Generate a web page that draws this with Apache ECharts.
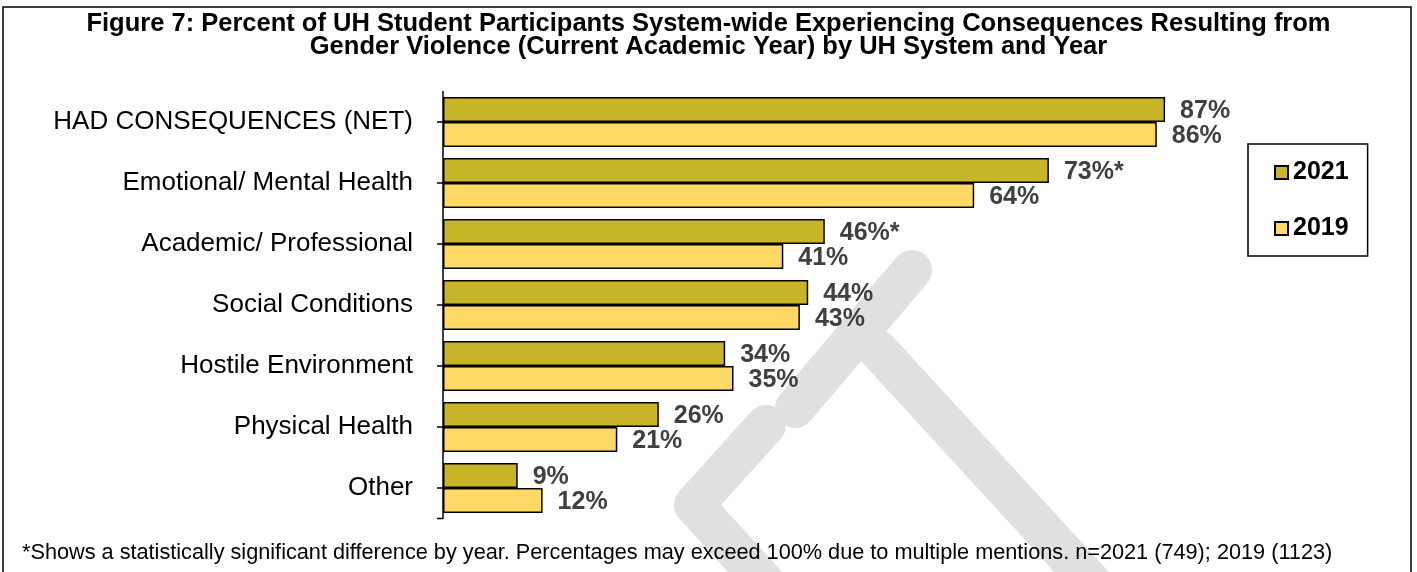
<!DOCTYPE html>
<html>
<head>
<meta charset="utf-8">
<script src="https://cdn.jsdelivr.net/npm/echarts@6/dist/echarts.min.js"></script>
<style>
html,body{margin:0;padding:0;background:#fff;}
#chart{width:1417px;height:572px;}
</style>
</head>
<body>
<div id="chart"></div>
<script>
const titleLines = ['Figure 7: Percent of UH Student Participants System-wide Experiencing Consequences Resulting from', 'Gender Violence (Current Academic Year) by UH System and Year'];
const categories = ['HAD CONSEQUENCES (NET)', 'Emotional/ Mental Health', 'Academic/ Professional', 'Social Conditions', 'Hostile Environment', 'Physical Health', 'Other'];
const seriesNames = ['2021', '2019'];
const values2021 = [87, 73, 46, 44, 34, 26, 9];
const values2019 = [86, 64, 41, 43, 35, 21, 12];
const significant2021 = [false, true, true, false, false, false, false];
const footnote = '*Shows a statistically significant difference by year. Percentages may exceed 100% due to multiple mentions. n=2021 (749); 2019 (1123)';

const FONT = 'Liberation Sans, Arial, sans-serif';
const chart = echarts.init(document.getElementById('chart'));

const wm = { stroke: '#E0E0E0', lineWidth: 40, lineCap: 'round', lineJoin: 'round' };

chart.setOption({
  animation: false,
  backgroundColor: '#fff',
  title: {
    text: titleLines.join('\n'),
    left: 'center',
    top: 7,
    textStyle: { fontFamily: FONT, fontWeight: 'bold', fontSize: 25.5, lineHeight: 23.5, color: '#000' }
  },
  legend: {
    orient: 'vertical',
    left: 1248,
    top: 144,
    width: 120,
    padding: [16, 19, 15, 26],
    itemGap: 31,
    itemWidth: 13,
    itemHeight: 13,
    icon: 'rect',
    borderColor: '#000',
    borderWidth: 1.5,
    backgroundColor: '#fff',
    textStyle: { fontFamily: FONT, fontWeight: 'bold', fontSize: 25, color: '#000' },
    data: seriesNames
  },
  grid: { left: 443, right: 144, top: 91.5, bottom: 53.5, containLabel: false },
  xAxis: {
    type: 'value', min: 0, max: 100,
    show: false
  },
  yAxis: {
    type: 'category',
    inverse: true,
    data: categories,
    axisLine: { show: true, lineStyle: { color: '#000', width: 1.5 } },
    axisTick: { show: true, alignWithLabel: true, length: 6, lineStyle: { color: '#000', width: 1.5 } },
    axisLabel: { fontFamily: FONT, fontSize: 26, color: '#000', margin: 30 }
  },
  series: [
    {
      name: seriesNames[0], type: 'bar', data: values2021, barWidth: 25, barGap: '0%',
      itemStyle: { color: '#C8B428', borderColor: '#000', borderWidth: 1.5 },
      label: {
        show: true, position: 'right', distance: 15, offset: [0, 2],
        fontFamily: FONT, fontWeight: 'bold', fontSize: 25, color: '#404040',
        formatter: p => p.value + '%' + (significant2021[p.dataIndex] ? '*' : '')
      },
      z: 3
    },
    {
      name: seriesNames[1], type: 'bar', data: values2019, barWidth: 25, barGap: '0%',
      itemStyle: { color: '#FFD966', borderColor: '#000', borderWidth: 1.5 },
      label: {
        show: true, position: 'right', distance: 15, offset: [0, 2],
        fontFamily: FONT, fontWeight: 'bold', fontSize: 25, color: '#404040',
        formatter: p => p.value + '%'
      },
      z: 3
    }
  ],
  graphic: [
    { type: 'polyline', z: -5, silent: true, shape: { points: [[912, 270], [795, 408]] }, style: wm },
    { type: 'polyline', z: -5, silent: true, shape: { points: [[878, 350], [1112, 605]] }, style: wm },
    { type: 'polyline', z: -5, silent: true, shape: { points: [[766, 425], [694, 505], [790, 610]] }, style: wm },
    { type: 'line', z: 20, silent: true, shape: { x1: 437, y1: 518.5, x2: 443, y2: 518.5 }, style: { stroke: '#000', lineWidth: 1.5 } },
    { type: 'rect', z: 20, silent: true, shape: { x: 3, y: 7, width: 1408, height: 570 }, style: { fill: 'none', stroke: '#000', lineWidth: 1.5 } },
    { type: 'text', z: 20, silent: true, left: 22, top: 542, style: { text: footnote, fontFamily: FONT, fontSize: 21.7, fill: '#000' } }
  ]
});
</script>
</body>
</html>
